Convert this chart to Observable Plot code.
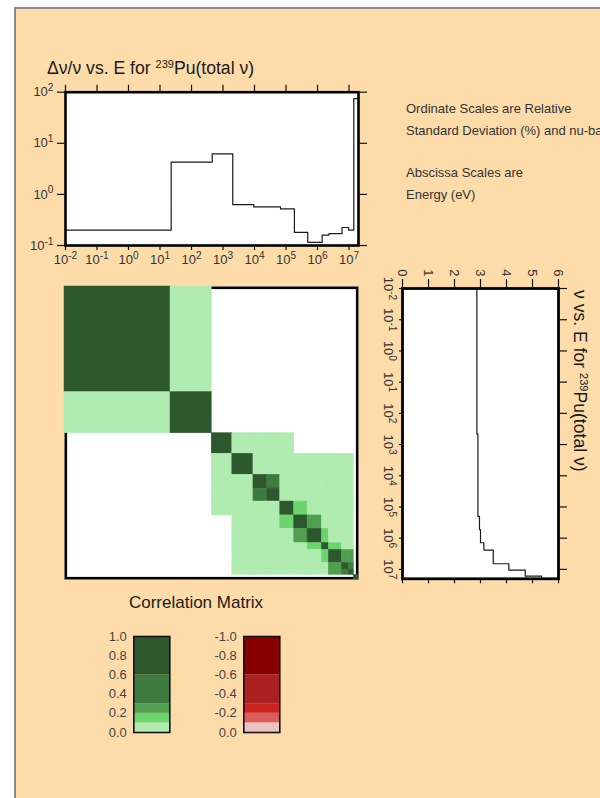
<!DOCTYPE html>
<html><head><meta charset="utf-8">
<script src="https://cdn.jsdelivr.net/npm/d3@7"></script>
<script src="https://cdn.jsdelivr.net/npm/@observablehq/plot@0.6"></script>
<style>
html,body{margin:0;padding:0;background:#fff;width:600px;height:798px;overflow:hidden;font-family:"Liberation Sans",Arial,Helvetica,sans-serif;}
#panel{position:absolute;left:14px;top:7px;width:600px;height:800px;background:#FDDCAA;border-left:2px solid #8a8a8a;border-top:2px solid #8a8a8a;}
.abs{position:absolute;}
.ttl{font-size:17.6px;line-height:20px;color:#1a1a1a;white-space:nowrap;}
.ttl .sup{font-size:11px;vertical-align:6px;line-height:10px;}
.note{font-size:13px;line-height:21.3px;color:#333;white-space:nowrap;}
</style></head><body>
<div id="panel"></div>
<div id="root" class="abs" style="left:0;top:0;width:600px;height:798px;"></div>
<script>
// ---------------- data ----------------
const groupEdges = [0.01, 22.6, 454, 2040, 9500, 2.6e4, 6.7e4, 1.85e5, 4.9e5, 1.4e6, 2.3e6, 6e6, 9.8e6, 1.42e7, 2e7];
const relStdDev  = [0.2, 4.3, 6.2, 0.63, 0.57, 0.57, 0.52, 0.18, 0.115, 0.16, 0.17, 0.225, 0.2, 75];
const nuEdges    = [0.01, 460, 2e5, 5.3e5, 1.4e6, 2.4e6, 6.6e6, 1.05e7, 1.65e7, 2e7];
const nuValues   = [2.86, 2.9, 2.96, 3.0, 3.13, 3.49, 4.09, 4.72, 5.35];
const correlation = [
  [1, .05, null, null, null, null, null, null, null, null, null, null, null, null],
  [.05, 1, null, null, null, null, null, null, null, null, null, null, null, null],
  [null, null, 1, .05, .05, .05, .05, null, null, null, null, null, null, null],
  [null, null, .05, 1, .05, .05, .05, .05, .05, .05, .05, .05, .05, null],
  [null, null, .05, .05, 1, .45, .05, .05, .05, .05, .05, .05, .05, null],
  [null, null, .05, .05, .45, 1, .05, .05, .05, .05, .05, .05, .05, null],
  [null, null, .05, .05, .05, .05, 1, .15, .05, .05, .05, .05, .05, null],
  [null, null, null, .05, .05, .05, .15, 1, .25, .05, .05, .05, .05, null],
  [null, null, null, .05, .05, .05, .05, .25, 1, .15, .05, .05, .05, null],
  [null, null, null, .05, .05, .05, .05, .05, .15, 1, .15, .05, .05, null],
  [null, null, null, .05, .05, .05, .05, .05, .05, .15, 1, .25, .25, null],
  [null, null, null, .05, .05, .05, .05, .05, .05, .05, .25, 1, .45, null],
  [null, null, null, .05, .05, .05, .05, .05, .05, .05, .25, .45, 1, null],
  [null, null, null, null, null, null, null, null, null, null, null, null, null, 1]
];
const decadeTicks = [1e-2, 1e-1, 1e0, 1e1, 1e2, 1e3, 1e4, 1e5, 1e6, 1e7];
const sdTicks = [0.1, 1, 10, 100];
const nuTicks = [0, 1, 2, 3, 4, 5, 6];
const legendEdges = [0, 0.1, 0.2, 0.3, 0.6, 1.0];
const legendTicks = [0, 0.2, 0.4, 0.6, 0.8, 1.0];
const greenColors = ["#B0EBB0", "#6CD46C", "#4F9F4F", "#3E7B3E", "#2D572D"];
const redColors   = ["#EBC3C3", "#DB5C5C", "#CD2222", "#AB2020", "#880000"];
const titleTop = "Δν/ν vs. E for <span class='sup'>239</span>Pu(total ν)";
const titleNu  = "ν vs. E for <span class='sup'>239</span>Pu(total ν)";
const noteLines = ["Ordinate Scales are Relative", "Standard Deviation (%) and nu-bar", "", "Abscissa Scales are", "Energy (eV)"];
const matrixTitle = "Correlation Matrix";

// ---------------- helpers ----------------
const FONT = "'Liberation Sans', Arial, Helvetica, sans-serif";
const TICK_FS = 13;
const root = document.getElementById("root");
const expFmt = d => "10^" + Math.round(Math.log10(d));
const blank = () => "";
function supify(svg) {
  svg.querySelectorAll("text").forEach(t => {
    const m = t.textContent.match(/^10\^(-?\d+)$/);
    if (m) {
      t.textContent = "10";
      const ts = document.createElementNS("http://www.w3.org/2000/svg", "tspan");
      ts.setAttribute("dy", "-0.5em");
      ts.setAttribute("font-size", "0.78em");
      ts.textContent = m[1];
      t.appendChild(ts);
    }
  });
}
function place(el, left, top, parent = root) {
  el.style.position = "absolute";
  el.style.left = left + "px";
  el.style.top = top + "px";
  parent.appendChild(el);
  return el;
}
function div(html, cls, left, top, parent = root) {
  const d = document.createElement("div");
  d.className = cls;
  d.innerHTML = html;
  return place(d, left, top, parent);
}
const stepData = (edges, vals) => edges.map((e, i) => ({E: e, v: vals[Math.min(i, vals.length - 1)]}));

// ---------------- top plot: relative std dev ----------------
const topSvg = Plot.plot({
  width: 380, height: 220,
  marginLeft: 65, marginRight: 22, marginTop: 31.7, marginBottom: 35,
  style: {background: "transparent", fontFamily: FONT, fontSize: TICK_FS + "px", color: "#111", overflow: "visible"},
  x: {type: "log", domain: [0.01, 2e7], label: null},
  y: {type: "log", domain: [0.1, 100], label: null},
  marks: [
    Plot.frame({fill: "white"}),
    Plot.line(stepData(groupEdges, relStdDev), {x: "E", y: "v", curve: "step-after", stroke: "#1a1a1a", strokeWidth: 1.2}),
    Plot.frame({stroke: "black", strokeWidth: 2.6}),
    Plot.axisX({ticks: decadeTicks, anchor: "bottom", tickSize: 5, tickPadding: 4, tickFormat: expFmt, label: null, strokeWidth: 1.2, fill: "#333", fontSize: TICK_FS}),
    Plot.axisX({ticks: decadeTicks, anchor: "top", tickSize: 8, tickFormat: blank, label: null, strokeWidth: 1.2}),
    Plot.axisY({ticks: sdTicks, anchor: "left", tickSize: 8, tickPadding: 4, tickFormat: expFmt, label: null, strokeWidth: 1.2, fill: "#333", fontSize: TICK_FS}),
    Plot.axisY({ticks: sdTicks, anchor: "right", tickSize: 8, tickFormat: blank, label: null, strokeWidth: 1.2})
  ]
});
supify(topSvg);
place(topSvg, 0, 60);
div(titleTop, "ttl", 47, 58);

// notes
noteLines.forEach((s, i) => div(s || "&nbsp;", "note", 406, 98.3 + i * 21.3));

// ---------------- right plot: nu vs E (rotated) ----------------
const nuBox = document.createElement("div");
nuBox.style.width = "340px";
nuBox.style.height = "230px";
nuBox.style.transformOrigin = "0 0";
nuBox.style.transform = "rotate(90deg)";
place(nuBox, 593, 257.7);
div(titleNu, "ttl", 32, 3, nuBox);
const nuSvg = Plot.plot({
  width: 335.3, height: 201,
  marginLeft: 30, marginRight: 15, marginTop: 10, marginBottom: 35,
  style: {background: "transparent", fontFamily: FONT, fontSize: TICK_FS + "px", color: "#111", overflow: "visible"},
  x: {type: "log", domain: [0.01, 2e7], label: null},
  y: {domain: [0, 6], label: null},
  marks: [
    Plot.frame({fill: "white"}),
    Plot.line(stepData(nuEdges, nuValues), {x: "E", y: "v", curve: "step-after", stroke: "#1a1a1a", strokeWidth: 1.2}),
    Plot.frame({stroke: "black", strokeWidth: 2.8}),
    Plot.axisX({ticks: decadeTicks, anchor: "bottom", tickSize: 4, tickPadding: 5, tickFormat: expFmt, label: null, strokeWidth: 1.2, fill: "#333", fontSize: TICK_FS}),
    Plot.axisX({ticks: decadeTicks, anchor: "top", tickSize: 9, tickFormat: blank, label: null, strokeWidth: 1.2}),
    Plot.axisY({ticks: nuTicks, anchor: "left", tickSize: 9, tickPadding: 3, tickFormat: d => String(d), label: null, strokeWidth: 1.2, fill: "#333", fontSize: TICK_FS}),
    Plot.axisY({ticks: nuTicks, anchor: "right", tickSize: 4, tickFormat: blank, label: null, strokeWidth: 1.2})
  ]
});
supify(nuSvg);
place(nuSvg, 0, 24, nuBox);

// ---------------- correlation matrix ----------------
const cells = [];
correlation.forEach((row, i) => row.forEach((c, j) => {
  if (c != null) cells.push({x1: groupEdges[j], x2: groupEdges[j + 1], y1: groupEdges[i], y2: groupEdges[i + 1], c});
}));
const matSvg = Plot.plot({
  width: 380, height: 330,
  marginLeft: 64, marginRight: 22, marginTop: 16, marginBottom: 21,
  style: {background: "transparent", fontFamily: FONT, overflow: "visible"},
  x: {type: "log", domain: [0.01, 2e7], axis: null},
  y: {type: "log", domain: [0.01, 2e7], reverse: true, axis: null},
  color: {type: "threshold", domain: [0.1, 0.2, 0.3, 0.6], range: greenColors},
  marks: [
    Plot.frame({fill: "white"}),
    Plot.frame({stroke: "black", strokeWidth: 2.6, inset: 1.3}),
    Plot.rect(cells, {x1: "x1", x2: "x2", y1: "y1", y2: "y2", fill: "c", stroke: "c", strokeWidth: 0.5})
  ]
});
place(matSvg, 0, 270);
div(matrixTitle, "ttl", 0, 593).style.cssText += "width:392px;text-align:center;font-size:17px;";

// ---------------- legends ----------------
function legend(colors, sign, left) {
  const segs = colors.map((col, k) => ({y1: sign * legendEdges[k], y2: sign * legendEdges[k + 1], col}));
  const svg = Plot.plot({
    width: 90, height: 120,
    marginLeft: 43.3, marginRight: 10.7, marginTop: 10, marginBottom: 14,
    style: {background: "transparent", fontFamily: FONT, fontSize: "13px", color: "#111", overflow: "visible"},
    x: {domain: [0, 1], axis: null},
    y: {domain: [0, sign], label: null},
    color: {type: "identity"},
    marks: [
      Plot.rect(segs, {x1: () => 0, x2: () => 1, y1: "y1", y2: "y2", fill: "col"}),
      Plot.frame({stroke: "#111", strokeWidth: 1.6}),
      Plot.axisY({ticks: legendTicks.map(t => sign * t), anchor: "left", tickSize: 0, tickPadding: 7,
        tickFormat: d => (Math.abs(d) < 1e-9 ? "0.0" : d.toFixed(1)), label: null, fill: "#444", fontSize: 13})
    ]
  });
  place(svg, left, 626);
}
legend(greenColors, 1, 90);
legend(redColors, -1, 200);
</script>
</body></html>
